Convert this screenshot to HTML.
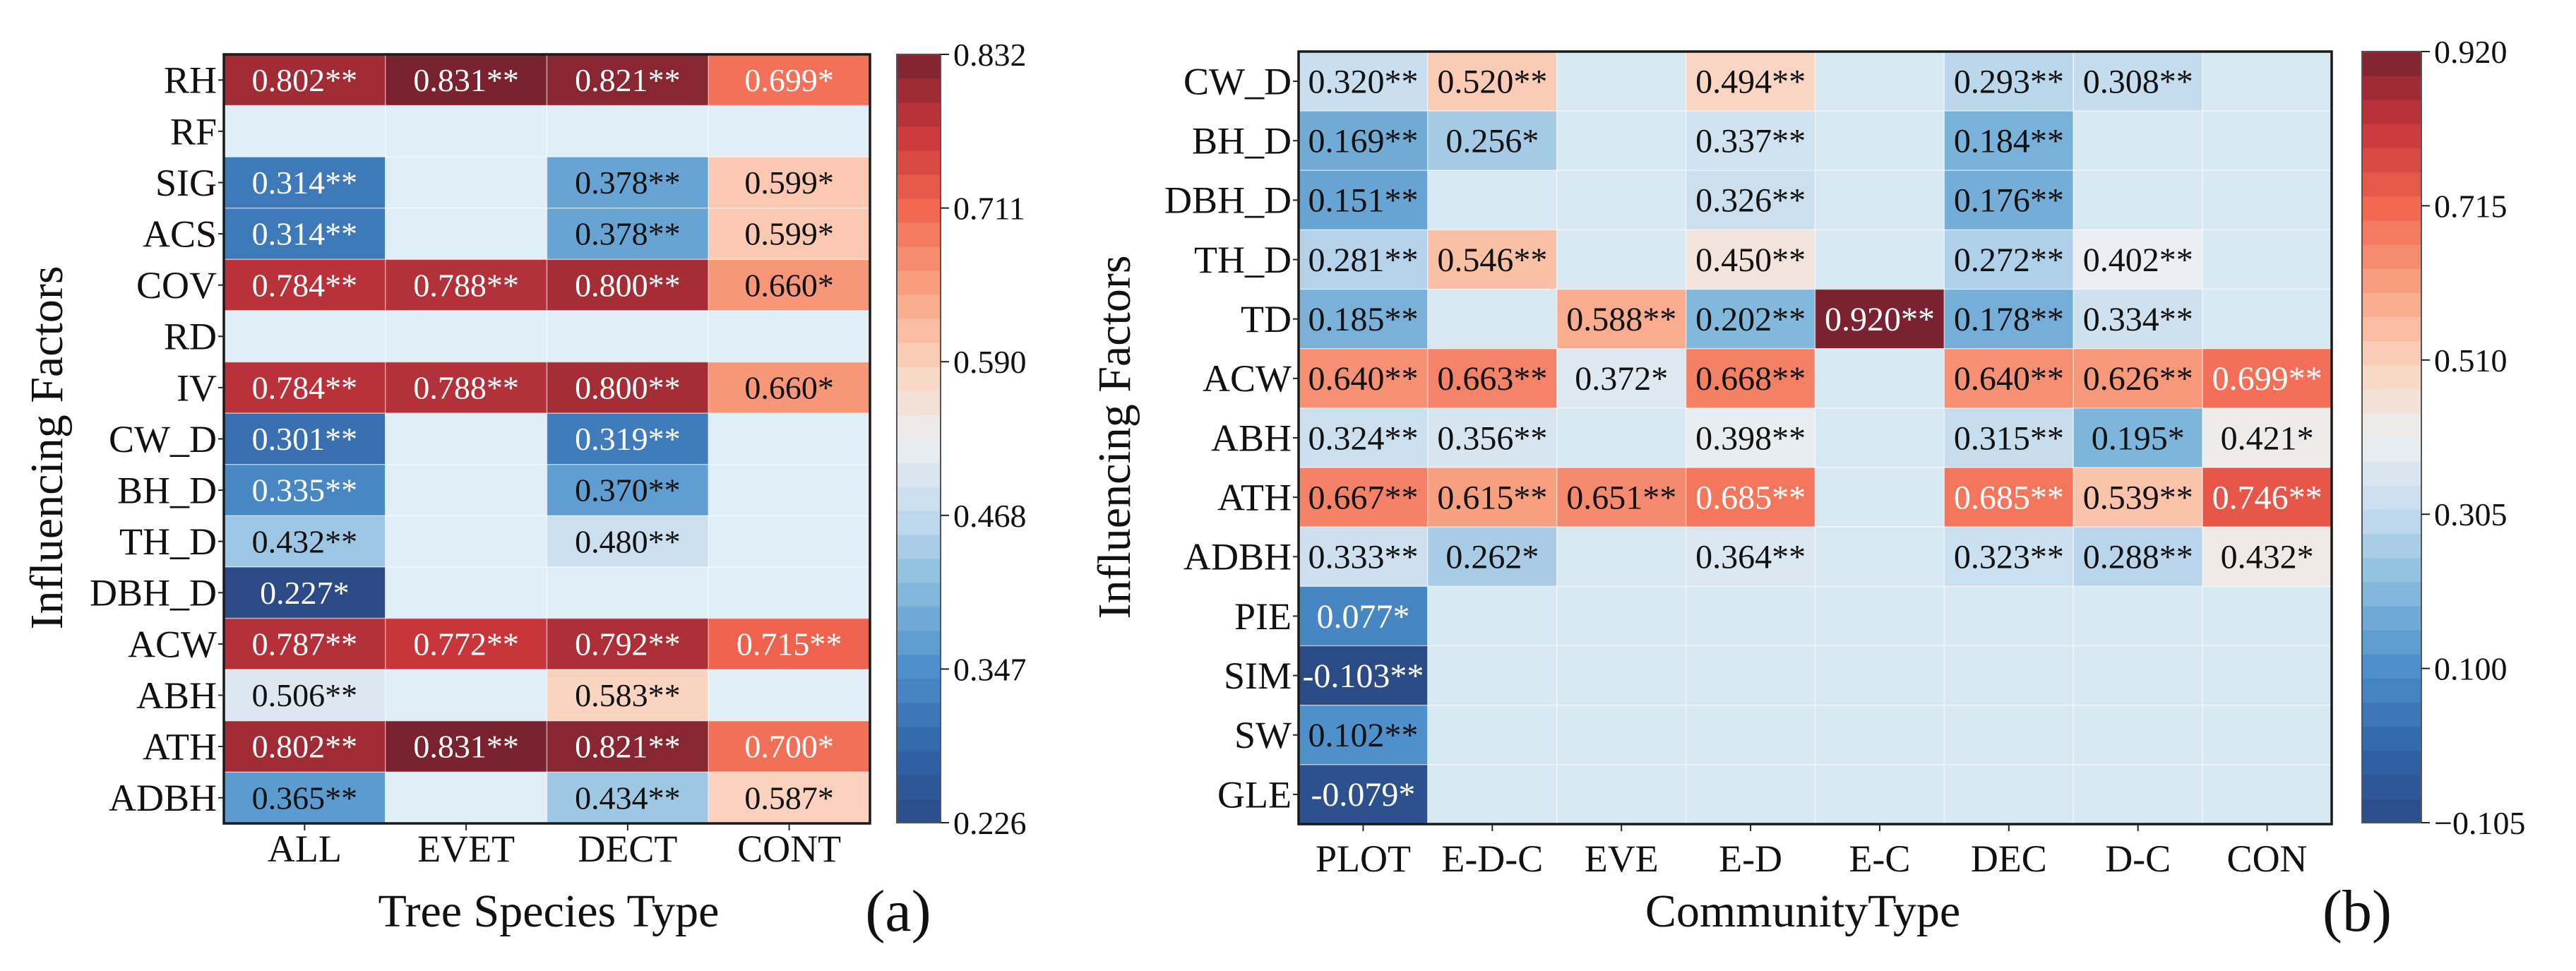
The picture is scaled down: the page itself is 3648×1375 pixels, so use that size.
<!DOCTYPE html>
<html><head><meta charset="utf-8"><style>
html,body{margin:0;padding:0;background:#fff;}
svg{display:block;}
svg text{font-family:"Liberation Serif","DejaVu Serif","Times New Roman",serif;}
</style></head><body>
<svg id="fig" width="3648" height="1375" viewBox="0 0 3648 1375" font-family="Liberation Serif, DejaVu Serif, serif"></svg>
<script>
// ---- Panel (a) data ----
const rowsA = ["RH","RF","SIG","ACS","COV","RD","IV","CW_D","BH_D","TH_D","DBH_D","ACW","ABH","ATH","ADBH"];
const colsA = ["ALL","EVET","DECT","CONT"];
const valsA = [
 [0.802,0.831,0.821,0.699],
 [null,null,null,null],
 [0.314,null,0.378,0.599],
 [0.314,null,0.378,0.599],
 [0.784,0.788,0.800,0.660],
 [null,null,null,null],
 [0.784,0.788,0.800,0.660],
 [0.301,null,0.319,null],
 [0.335,null,0.370,null],
 [0.432,null,0.480,null],
 [0.227,null,null,null],
 [0.787,0.772,0.792,0.715],
 [0.506,null,0.583,null],
 [0.802,0.831,0.821,0.700],
 [0.365,null,0.434,0.587]
];
const sigA = [
 ["**","**","**","*"],["","","",""],["**","","**","*"],["**","","**","*"],
 ["**","**","**","*"],["","","",""],["**","**","**","*"],["**","","**",""],
 ["**","","**",""],["**","","**",""],["*","","",""],["**","**","**","**"],
 ["**","","**",""],["**","**","**","*"],["**","","**","*"]
];
const ticksA = ["0.832","0.711","0.590","0.468","0.347","0.226"];
const rangeA = [0.226,0.832];

// ---- Panel (b) data ----
const rowsB = ["CW_D","BH_D","DBH_D","TH_D","TD","ACW","ABH","ATH","ADBH","PIE","SIM","SW","GLE"];
const colsB = ["PLOT","E-D-C","EVE","E-D","E-C","DEC","D-C","CON"];
const valsB = [
 [0.320,0.520,null,0.494,null,0.293,0.308,null],
 [0.169,0.256,null,0.337,null,0.184,null,null],
 [0.151,null,null,0.326,null,0.176,null,null],
 [0.281,0.546,null,0.450,null,0.272,0.402,null],
 [0.185,null,0.588,0.202,0.920,0.178,0.334,null],
 [0.640,0.663,0.372,0.668,null,0.640,0.626,0.699],
 [0.324,0.356,null,0.398,null,0.315,0.195,0.421],
 [0.667,0.615,0.651,0.685,null,0.685,0.539,0.746],
 [0.333,0.262,null,0.364,null,0.323,0.288,0.432],
 [0.077,null,null,null,null,null,null,null],
 [-0.103,null,null,null,null,null,null,null],
 [0.102,null,null,null,null,null,null,null],
 [-0.079,null,null,null,null,null,null,null]
];
const sigB = [
 ["**","**","","**","","**","**",""],
 ["**","*","","**","","**","",""],
 ["**","","","**","","**","",""],
 ["**","**","","**","","**","**",""],
 ["**","","**","**","**","**","**",""],
 ["**","**","*","**","","**","**","**"],
 ["**","**","","**","","**","*","*"],
 ["**","**","**","**","","**","**","**"],
 ["**","*","","**","","**","**","*"],
 ["*","","","","","","",""],
 ["**","","","","","","",""],
 ["**","","","","","","",""],
 ["*","","","","","","",""]
];
const ticksB = ["0.920","0.715","0.510","0.305","0.100","\u22120.105"];
const rangeB = [-0.105,0.920];

// ---- colormap ----
const stops = [[0,"#2b4a85"],[0.1,"#3266ab"],[0.2,"#4c8fca"],[0.3,"#82b8dc"],[0.4,"#c3dbee"],[0.5,"#eceff2"],[0.6,"#fbd1bb"],[0.7,"#f8a080"],[0.8,"#f2664f"],[0.9,"#c9363c"],[1,"#7a2230"]];
function hex(h){return [1,3,5].map(i=>parseInt(h.substr(i,2),16));}
function cmap(t){
  t=Math.max(0,Math.min(1,t));
  for(let i=1;i<stops.length;i++){
    if(t<=stops[i][0]){
      const a=stops[i-1],b=stops[i];const f=(t-a[0])/(b[0]-a[0]);
      const ca=hex(a[1]),cb=hex(b[1]);
      return "rgb("+ca.map((v,k)=>Math.round(v+(cb[k]-v)*f)).join(",")+")";
    }
  }
  return stops[stops.length-1][1];
}
const NS="http://www.w3.org/2000/svg";
const svg=document.getElementById("fig");
const FF="Liberation Serif, DejaVu Serif, serif";
function el(tag,attrs,parent,text){
  const e=document.createElementNS(NS,tag);
  for(const k in attrs)e.setAttribute(k,attrs[k]);
  if(tag==="text")e.setAttribute("font-family",FF);
  if(text!==undefined)e.textContent=text;
  (parent||svg).appendChild(e);return e;
}

function panel(cfg){
  const g=el("g",{});
  
  
  const nr=cfg.rows.length,nc=cfg.cols.length;
  const cw=(cfg.x1-cfg.x0)/nc,rh=(cfg.y1-cfg.y0)/nr;
  const xS=c=>cfg.x0+c*cw, yS=r=>cfg.y0+r*rh;
  const tS=v=>(v-cfg.range[0])/(cfg.range[1]-cfg.range[0]);
  for(let r=0;r<nr;r++)for(let c=0;c<nc;c++){
    const v=cfg.vals[r][c];
    const fill=v===null?cfg.empty:cmap(tS(v));
    const rect=el("rect",{x:xS(c),y:yS(r),width:cw,height:rh,fill:fill,stroke:"#ffffff","stroke-opacity":0.45,"stroke-width":1.5},g);
    
    
    if(v!==null){
      const t=tS(v);
      const col=(t<0.2||t>0.76)?"#ffffff":"#111111";
      const s=(v<0?"-":"")+Math.abs(v).toFixed(3)+cfg.sig[r][c];
      const tx=el("text",{x:xS(c)+cw/2,y:yS(r)+rh/2+cfg.fs*0.34,"text-anchor":"middle","font-size":cfg.fs,fill:col},g,s);
      
      
    }
  }
  const fr=el("rect",{x:cfg.x0,y:cfg.y0,width:cfg.x1-cfg.x0,height:cfg.y1-cfg.y0,fill:"none",stroke:"#1a1a1a","stroke-width":3.5},g);
  
  
  for(let r=0;r<nr;r++){
    el("line",{x1:cfg.x0-8,x2:cfg.x0,y1:yS(r)+rh/2,y2:yS(r)+rh/2,stroke:"#222","stroke-width":2},g);
    const t=el("text",{x:cfg.x0-10,y:yS(r)+rh/2+cfg.lfs*0.34,"text-anchor":"end","font-size":cfg.lfs,fill:"#111"},g,cfg.rows[r]);
    
    
  }
  for(let c=0;c<nc;c++){
    el("line",{x1:xS(c)+cw/2,x2:xS(c)+cw/2,y1:cfg.y1,y2:cfg.y1+10,stroke:"#222","stroke-width":2},g);
    const t=el("text",{x:xS(c)+cw/2,y:cfg.xty,"text-anchor":"middle","font-size":cfg.lfs,fill:"#111"},g,cfg.cols[c]);
    
    
  }
  const N=32,bh=(cfg.cb1-cfg.cb0)/N;
  for(let i=0;i<N;i++){
    el("rect",{x:cfg.cbx,y:cfg.cb1-(i+1)*bh,width:cfg.cbw,height:bh+0.6,fill:cmap((i+0.5)/N)},g);
  }
  const cbf=el("rect",{x:cfg.cbx,y:cfg.cb0,width:cfg.cbw,height:cfg.cb1-cfg.cb0,fill:"none",stroke:"#555","stroke-width":2},g);
  
  
  for(let i=0;i<cfg.ticks.length;i++){
    const y=cfg.cb0+i*(cfg.cb1-cfg.cb0)/(cfg.ticks.length-1);
    el("line",{x1:cfg.cbx+cfg.cbw,x2:cfg.cbx+cfg.cbw+12,y1:y,y2:y,stroke:"#222","stroke-width":2},g);
    const t=el("text",{x:cfg.cbx+cfg.cbw+18,y:y+16,"font-size":46,fill:"#111"},g,cfg.ticks[i]);
    
    
  }
  const yt=el("text",{x:0,y:0,"text-anchor":"middle","font-size":66,fill:"#111",transform:"translate("+cfg.ytx+","+cfg.yty+") rotate(-90)"},g,"Influencing Factors");
  
  
  const xt=el("text",{x:cfg.xtx,y:1312,"text-anchor":"middle","font-size":66,fill:"#111"},g,cfg.xtitle);
  
  
  const pl=el("text",{x:cfg.plx,y:1318,"text-anchor":"middle","font-size":84,fill:"#111"},g,cfg.pl);
  
  
}

panel({name:"heatmap-a",rows:rowsA,cols:colsA,vals:valsA,sig:sigA,range:rangeA,ticks:ticksA,
  x0:317,x1:1232,y0:77,y1:1166,fs:46,lfs:54,empty:"#dfeef7",xty:1220,
  cbx:1270,cbw:62,cb0:77,cb1:1165,ytx:88,yty:634,xtx:777,xtitle:"Tree Species Type",plx:1272,pl:"(a)"});
panel({name:"heatmap-b",rows:rowsB,cols:colsB,vals:valsB,sig:sigB,range:rangeB,ticks:ticksB,
  x0:1839,x1:3302,y0:73,y1:1167,fs:48,lfs:54,empty:"#d8e8f3",xty:1234,
  cbx:3345,cbw:84,cb0:73,cb1:1165,ytx:1600,yty:619,xtx:2553,xtitle:"CommunityType",plx:3338,pl:"(b)"});
</script>
</body></html>
